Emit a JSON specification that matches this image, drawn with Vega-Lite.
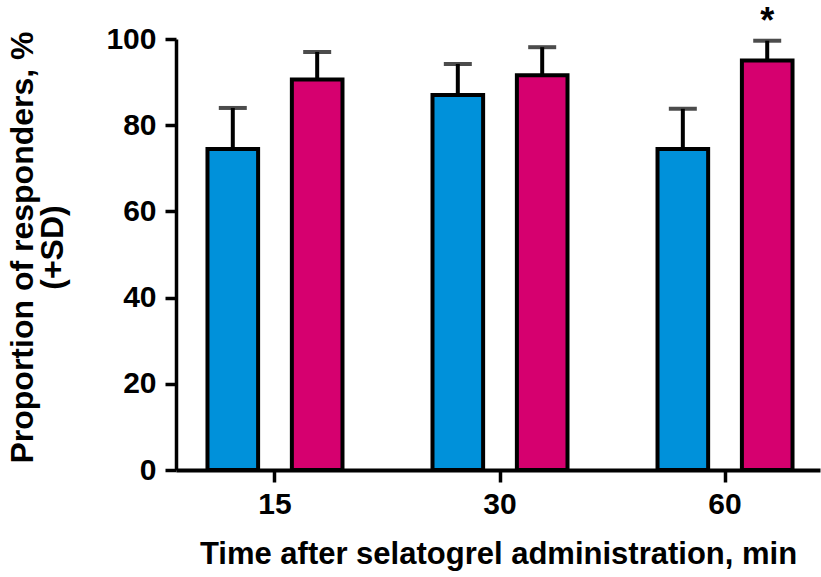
{
  "$schema": "https://vega.github.io/schema/vega-lite/v6.json",
  "width": 644,
  "height": 431,
  "autosize": {"type": "none"},
  "padding": {"left": 176, "top": 39, "right": 1, "bottom": 107},
  "background": "white",
  "config": {
    "view": {"stroke": null},
    "axis": {"grid": false, "labelFont": "Liberation Sans", "titleFont": "Liberation Sans", "labelColor": "black", "titleColor": "black", "domainColor": "black", "tickColor": "black"}
  },
  "data": {
    "values": [
      {"time": "15", "group": "A", "mean": 74.5, "upper": 84.0, "star": ""},
      {"time": "15", "group": "B", "mean": 90.6, "upper": 97.0, "star": ""},
      {"time": "30", "group": "A", "mean": 87.0, "upper": 94.2, "star": ""},
      {"time": "30", "group": "B", "mean": 91.6, "upper": 98.1, "star": ""},
      {"time": "60", "group": "A", "mean": 74.5, "upper": 83.8, "star": ""},
      {"time": "60", "group": "B", "mean": 95.0, "upper": 99.6, "star": "*"}
    ]
  },
  "encoding": {
    "x": {
      "field": "time",
      "type": "nominal",
      "sort": ["15", "30", "60"],
      "scale": {"paddingInner": 0.4, "paddingOuter": 0.131, "align": 0.534},
      "axis": {
        "title": "Time after selatogrel administration, min",
        "labelAngle": 0,
        "labelFontSize": 30,
        "labelFontWeight": "bold",
        "labelPadding": 7,
        "tickSize": 12,
        "tickWidth": 3.5,
        "domainWidth": 4,
        "titleFontSize": 31,
        "titleFontWeight": "bold",
        "titlePadding": 20
      }
    },
    "xOffset": {"field": "group", "sort": ["A", "B"], "scale": {"paddingInner": 0.4, "paddingOuter": 0}}
  },
  "layer": [
    {
      "mark": {"type": "rule", "color": "black", "strokeWidth": 4},
      "encoding": {
        "y": {"field": "mean", "type": "quantitative"},
        "y2": {"field": "upper"}
      }
    },
    {
      "mark": {"type": "bar", "stroke": "black", "strokeWidth": 4},
      "encoding": {
        "y": {
          "field": "mean",
          "type": "quantitative",
          "scale": {"domain": [0, 100]},
          "axis": {
            "title": ["Proportion of responders, %", "(+SD)"],
            "values": [0, 20, 40, 60, 80, 100],
            "labelFontSize": 30,
            "labelFontWeight": "bold",
            "labelPadding": 9,
            "tickSize": 11,
            "tickWidth": 3.5,
            "domainWidth": 3.5,
            "titleFontSize": 32,
            "titleFontWeight": "bold",
            "titleLineHeight": 30,
            "titlePadding": 36,
            "titleY": 208
          }
        },
        "fill": {"field": "group", "type": "nominal", "scale": {"domain": ["A", "B"], "range": ["#0091DA", "#D6006F"]}, "legend": null}
      }
    },
    {
      "mark": {"type": "tick", "color": "black", "thickness": 4, "size": 28, "orient": "horizontal"},
      "encoding": {
        "y": {"field": "upper", "type": "quantitative"}
      }
    },
    {
      "mark": {"type": "text", "fontSize": 36, "font": "Liberation Sans", "fontWeight": "bold", "baseline": "alphabetic", "dy": -8, "color": "black"},
      "encoding": {
        "y": {"field": "upper", "type": "quantitative"},
        "text": {"field": "star"}
      }
    }
  ]
}
